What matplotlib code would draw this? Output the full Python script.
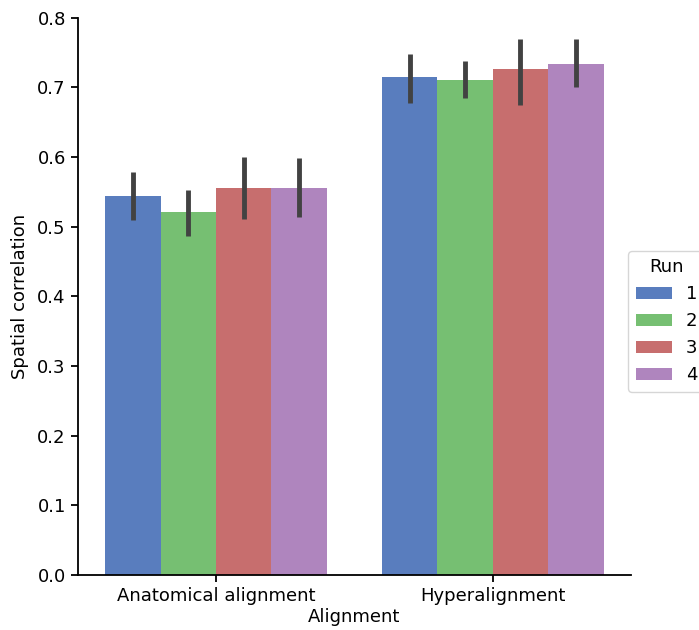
import matplotlib
matplotlib.use("Agg")
import matplotlib.pyplot as plt
import numpy as np
import seaborn as sns

alignments = ["Anatomical alignment", "Hyperalignment"]
runs = ["1", "2", "3", "4"]

# mean spatial correlation per run (rows: alignment, cols: run)
means = np.array([
    [0.544, 0.521, 0.556, 0.556],
    [0.715, 0.711, 0.727, 0.734],
])
ci_low = np.array([
    [0.509, 0.487, 0.511, 0.514],
    [0.677, 0.684, 0.675, 0.701],
])
ci_high = np.array([
    [0.579, 0.553, 0.600, 0.599],
    [0.748, 0.738, 0.770, 0.770],
])

base_colors = ["#4878CF", "#6ACC65", "#D65F5F", "#B47CC7"]
colors = [sns.desaturate(c, 0.75) for c in base_colors]

fs = 13
fig = plt.figure(figsize=(6.99, 6.30), dpi=100)
ax = fig.add_axes([0.111, 0.087, 0.792, 0.885])

width = 0.8 / len(runs)
x = np.arange(len(alignments))
handles = []
for j, run in enumerate(runs):
    pos = x - 0.4 + width * (j + 0.5)
    h = ax.bar(pos, means[:, j], width, color=colors[j], linewidth=0, label=run)
    handles.append(h)
    ax.vlines(pos, ci_low[:, j], ci_high[:, j], color=".26", linewidth=3.5)

ax.set_xlim(-0.5, 1.5)
ax.set_ylim(0, 0.8)
ax.set_xticks(x)
ax.set_xticklabels(alignments, fontsize=fs)
yt = np.arange(0, 0.81, 0.1)
ax.set_yticks(yt)
ax.set_yticklabels([f"{v:.1f}" for v in yt], fontsize=fs)
ax.tick_params(length=5, width=1.3, pad=3.5)
ax.set_xlabel("Alignment", fontsize=fs, labelpad=2)
ax.set_ylabel("Spatial correlation", fontsize=fs, labelpad=6)
for s in ["top", "right"]:
    ax.spines[s].set_visible(False)
for s in ["left", "bottom"]:
    ax.spines[s].set_linewidth(1.3)

fig.legend(handles, runs, title="Run", loc="center left",
           bbox_to_anchor=(0.886, 0.49), fontsize=fs, title_fontsize=fs,
           frameon=True)

fig.savefig("out.png", dpi=100)
